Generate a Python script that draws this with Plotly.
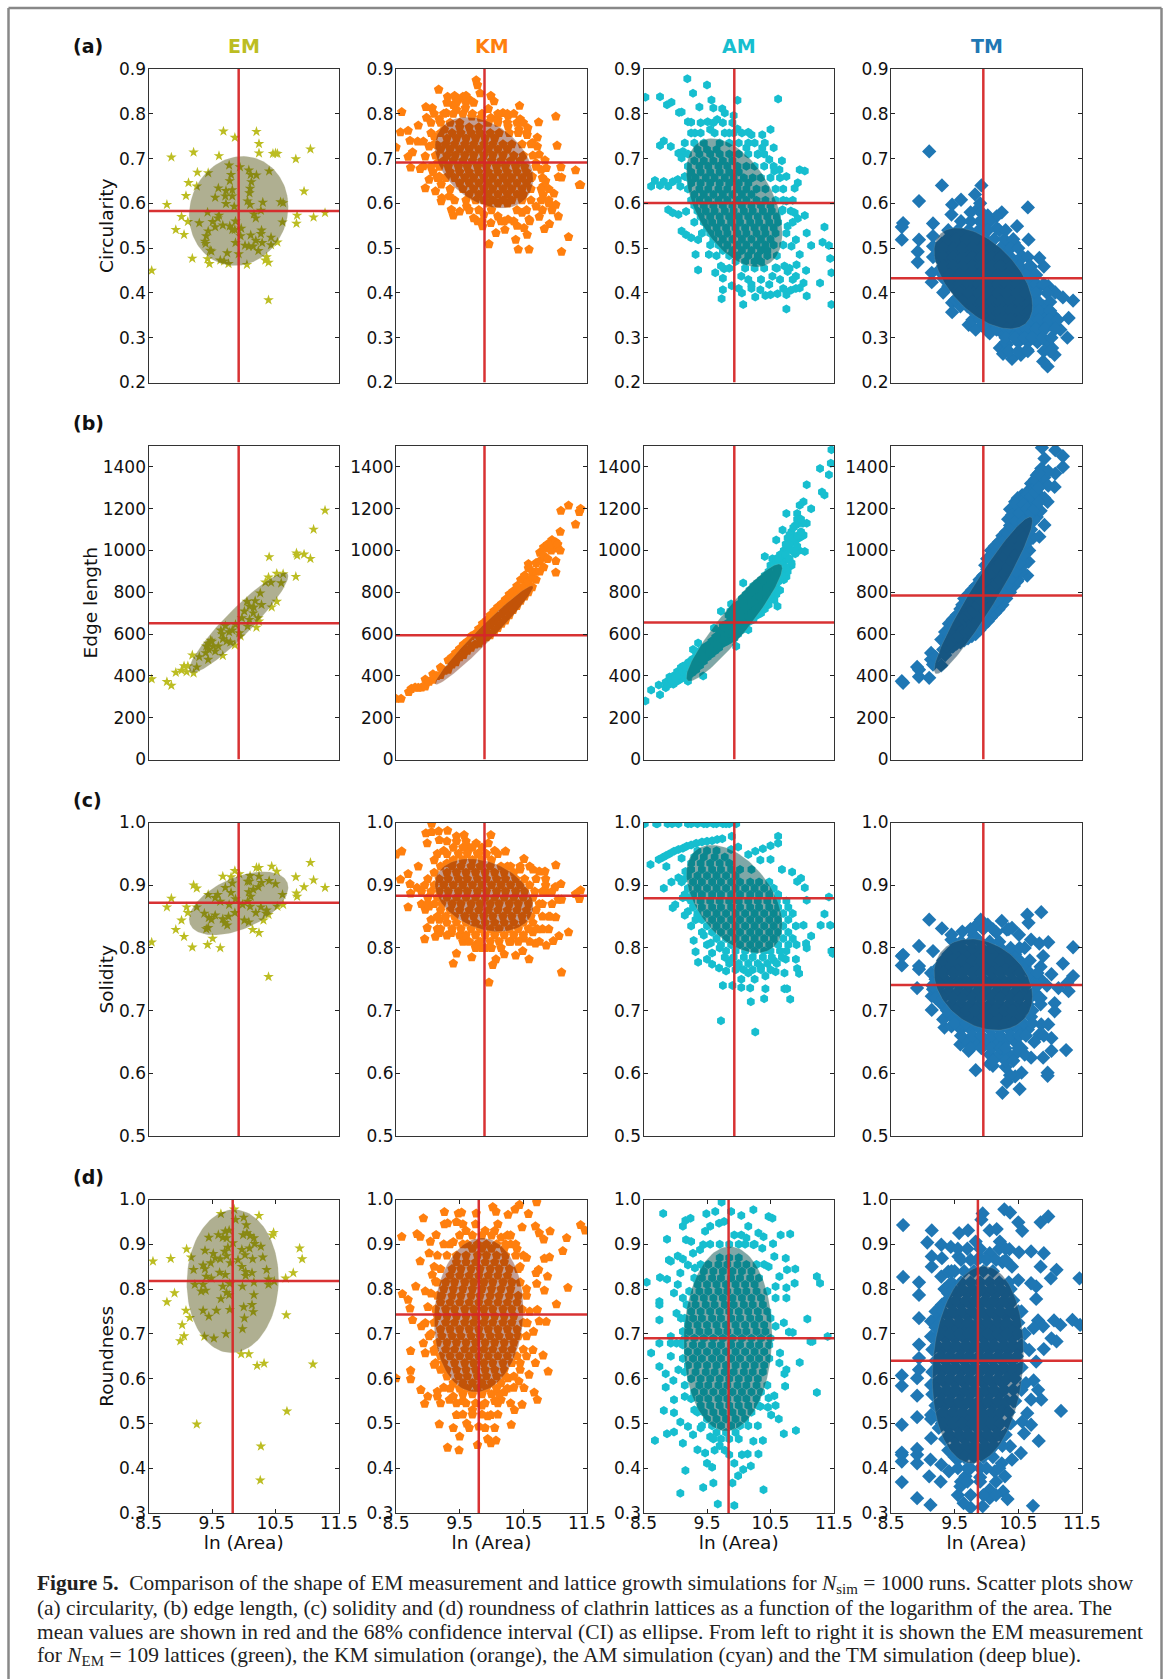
import numpy as np
import plotly.graph_objects as go

W, H = 1165, 1679
MODELS = ["EM", "KM", "AM", "TM"]
COLORS = ["#bcbd22", "#ff7f0e", "#17becf", "#1f77b4"]
SYMBOLS = ["star", "pentagon", "hexagon", "diamond"]
MSIZE = [8, 10, 9, 11]
ELL_FILL = ["rgba(70,70,0,0.43)", "rgba(110,25,0,0.42)", "rgba(0,80,80,0.5)", "rgba(15,55,85,0.52)"]
ROW_LABELS = ["(a)", "(b)", "(c)", "(d)"]
Y_TITLES = ["Circularity", "Edge length", "Solidity", "Roundness"]
X_TICKS = [8.5, 9.5, 10.5, 11.5]
X_TICKTEXT = ["8.5", "9.5", "10.5", "11.5"]
Y_RANGES = [[0.2, 0.9], [0, 1500], [0.5, 1.0], [0.3, 1.0]]
Y_TICKS = [[0.2, 0.3, 0.4, 0.5, 0.6, 0.7, 0.8, 0.9],
           [0, 200, 400, 600, 800, 1000, 1200, 1400],
           [0.5, 0.6, 0.7, 0.8, 0.9, 1.0],
           [0.3, 0.4, 0.5, 0.6, 0.7, 0.8, 0.9, 1.0]]
Y_TICKTEXT = [["0.2", "0.3", "0.4", "0.5", "0.6", "0.7", "0.8", "0.9"],
              ["0", "200", "400", "600", "800", "1000", "1200", "1400"],
              ["0.5", "0.6", "0.7", "0.8", "0.9", "1.0"],
              ["0.3", "0.4", "0.5", "0.6", "0.7", "0.8", "0.9", "1.0"]]

# mean values: one row per shape measure, one column per model
MEAN_X = [[9.92, 9.89, 9.93, 9.95], [9.92, 9.89, 9.93, 9.95], [9.92, 9.89, 9.93, 9.95], [9.826, 9.80, 9.84, 9.865]]
MEAN_Y = [[0.583, 0.691, 0.601, 0.433], [652, 595, 655, 785], [0.872, 0.883, 0.879, 0.741], [0.818, 0.743, 0.69, 0.64]]
# confidence ellipses: half-width in x, half-height in y, correlation
ELL_CX = [[9.92, 9.883, 9.93, 9.95], [9.92, 9.883, 9.93, 9.95], [9.92, 9.883, 9.93, 9.95], [9.826, 9.80, 9.83, 9.865]]
ELL_CY = [[0.583, 0.691, 0.6015, 0.4325], [655, 595, 655, 785], [0.871, 0.884, 0.878, 0.7415], [0.8175, 0.742, 0.689, 0.631]]
ELL_SX = [[0.78, 0.77, 0.754, 0.772], [0.78, 0.77, 0.754, 0.772], [0.78, 0.77, 0.754, 0.772], [0.723, 0.70, 0.695, 0.716]]
ELL_SY = [[0.122, 0.1015, 0.1435, 0.1125], [240, 236, 280, 375], [0.0505, 0.058, 0.086, 0.0727], [0.16, 0.172, 0.206, 0.22]]
ELL_RHO = [[0.08, -0.35, -0.47, -0.54], [0.93, 0.975, 0.93, 0.95], [0.5, -0.3, -0.47, -0.26], [0.03, 0.07, 0.04, 0.13]]

EM_A = [(8.55,.45),(8.86,.703),(8.79,.597),(9.21,.714),(9.27,.669),(9.13,.646),(9.26,.638),(9.09,.617),(9.02,.57),(9.12,.559),(8.93,.541),(9.06,.53),(9.19,.477),(9.3,.556),(9.43,.58),(9.44,.668),(9.61,.706),(9.68,.761),(9.86,.747),(10.2,.76),(10.24,.733),(10.24,.712),(10.46,.711),(10.5,.712),(10.53,.711),(10.82,.699),(11.05,.721),(10.95,.627),(10.84,.573),(10.83,.555),(11.1,.569),(11.28,.579),(10.39,.384),(10.4,.672),(10.2,.663),(10.08,.674),(10.11,.664),(9.77,.685),(9.94,.681),(9.8,.664),(9.78,.65),(10.12,.648),(9.6,.634),(9.72,.628),(9.82,.63),(10.1,.633),(10.09,.623),(9.55,.613),(9.71,.616),(9.82,.616),(10.06,.605),(10.1,.597),(10.3,.602),(10.58,.603),(10.62,.601),(9.72,.599),(9.85,.593),(10.27,.584),(9.61,.573),(9.59,.567),(10.16,.576),(10.19,.567),(9.51,.559),(9.55,.547),(9.67,.551),(9.78,.549),(9.82,.541),(9.87,.56),(9.86,.541),(9.96,.544),(9.44,.538),(9.41,.527),(9.39,.515),(9.4,.51),(10.61,.558),(10.28,.54),(10.27,.532),(10.11,.529),(10.43,.524),(9.95,.527),(9.87,.512),(10.19,.517),(10.29,.512),(10.53,.513),(10.43,.507),(10.02,.506),(10.08,.504),(10.15,.504),(10.23,.494),(9.47,.495),(9.49,.493),(9.74,.489),(9.92,.487),(9.43,.476),(9.46,.465),(9.63,.473),(9.69,.471),(9.76,.465),(10.05,.463),(10.34,.473),(10.36,.48),(10.39,.468)]
EM_B = [(8.55,385),(8.79,372),(8.86,354),(8.93,416),(9.02,426),(9.06,447),(9.12,447),(9.1,419),(9.21,413),(9.19,499),(9.26,442),(9.3,491),(9.41,542),(9.44,555),(9.48,570),(9.4,510),(9.45,526),(9.44,478),(9.52,542),(9.55,518),(9.6,542),(9.67,497),(9.67,577),(9.64,618),(9.71,640),(9.73,566),(9.79,561),(9.86,547),(9.82,618),(9.87,645),(9.93,605),(9.95,590),(10.01,709),(10.05,756),(10.09,733),(10.16,728),(10.18,759),(10.15,700),(10.06,637),(10.09,669),(10.23,677),(10.24,661),(10.2,632),(10.28,740),(10.26,796),(10.34,848),(10.39,872),(10.43,847),(10.4,969),(10.44,729),(10.52,756),(10.52,890),(10.62,888),(10.59,844),(10.82,875),(10.83,987),(10.84,976),(10.95,982),(11.05,961),(11.1,1101),(11.28,1192),(9.97,677),(9.66,600),(9.77,610),(9.5,565)]
EM_C = [(8.55,.809),(8.79,.865),(8.86,.879),(8.93,.829),(9.02,.844),(9.06,.818),(9.1,.865),(9.12,.856),(9.19,.801),(9.21,.9),(9.26,.895),(9.26,.865),(9.43,.805),(9.51,.815),(9.63,.8),(9.67,.914),(9.8,.913),(9.86,.923),(9.93,.918),(9.71,.896),(9.82,.903),(9.44,.885),(9.59,.885),(9.55,.88),(9.63,.874),(9.38,.855),(9.45,.848),(9.49,.845),(9.55,.852),(9.67,.846),(9.41,.83),(9.44,.832),(9.7,.84),(9.74,.836),(9.76,.85),(9.86,.856),(9.8,.888),(9.77,.869),(9.87,.878),(9.98,.869),(10.06,.874),(10.1,.866),(10.01,.844),(10.08,.841),(10.14,.829),(10.24,.824),(10.31,.844),(10.39,.853),(10.36,.86),(10.35,.855),(10.19,.856),(10.27,.865),(10.53,.866),(10.62,.869),(10.61,.885),(10.5,.902),(10.4,.907),(10.28,.904),(10.23,.897),(10.15,.893),(10.08,.889),(10.11,.882),(10.09,.906),(10.06,.906),(10.1,.915),(10.24,.914),(10.2,.928),(10.24,.928),(10.44,.93),(10.52,.922),(10.82,.913),(10.95,.897),(10.83,.887),(10.84,.882),(11.1,.908),(11.05,.936),(11.28,.896),(10.39,.754)]
EM_D = [(8.57,.862),(8.85,.868),(9.1,.889),(9.17,.871),(8.91,.791),(8.79,.771),(9.21,.843),(9.23,.81),(9.09,.752),(9.15,.736),(9.03,.72),(9.06,.695),(9,.684),(9.38,.694),(9.53,.69),(9.72,.7),(9.98,.711),(10.01,.735),(10.15,.749),(10.13,.765),(10,.76),(9.78,.754),(9.57,.752),(9.45,.739),(9.36,.752),(9.26,.498),(9.96,.655),(10.08,.655),(10.21,.629),(10.32,.634),(10.67,.742),(11.09,.632),(10.68,.527),(10.27,.449),(10.26,.373),(10.88,.891),(10.92,.867),(10.78,.836),(10.66,.824),(9.64,.968),(9.85,.978),(10.24,.964),(9.87,.955),(10,.96),(10.04,.943),(10.45,.92),(10.47,.926),(9.45,.915),(9.6,.921),(9.71,.929),(9.77,.931),(9.67,.915),(9.73,.914),(9.99,.921),(10.05,.925),(10.1,.919),(10.16,.914),(10.17,.901),(10.27,.895),(9.83,.903),(9.75,.893),(9.39,.886),(9.52,.879),(9.55,.869),(9.63,.867),(9.48,.858),(9.7,.884),(9.73,.874),(9.79,.858),(9.91,.865),(9.97,.888),(10.02,.876),(10.09,.891),(10.14,.867),(10.3,.871),(10.36,.843),(9.36,.853),(9.39,.845),(9.41,.828),(9.49,.824),(9.62,.837),(9.71,.832),(9.97,.85),(10.03,.839),(10.13,.836),(10.03,.83),(10.39,.822),(10.39,.81),(10.48,.817),(10.16,.815),(9.98,.806),(9.36,.81),(9.33,.795),(9.4,.797),(9.67,.806),(9.78,.812),(9.73,.792),(9.77,.787),(9.64,.778),(10.16,.787)]

# KM: single readable points, then the dense part read row by row as (y, [x ...])
KM_A = [(8.5,.725),(8.59,.804),(8.57,.759),(8.69,.762),(8.72,.74),(8.85,.774),(8.84,.738),(8.93,.738),(8.76,.714),(8.69,.704),(8.73,.68),(8.88,.677),(8.96,.705),(8.93,.683),(9.02,.727),(8.97,.815),(8.98,.791),(9.07,.813),(9.17,.854),(9.31,.838),(9.42,.84),(9.48,.832),(9.55,.838),(9.64,.833),(9.76,.875),(9.78,.864),(9.82,.846),(9.99,.84),(10.04,.828),(9.95,.811),(10.44,.818),(11.01,.794),(10.74,.781),(10.45,.788),(10.18,.802),(10.26,.796),(11.03,.729),(10.72,.747),(10.57,.768),(10.84,.696),(11.09,.681),(11.32,.674),(11.05,.659),(11.1,.658),(11.38,.641),(11.4,.641),(10.86,.679),(10.72,.727),(10.75,.709),(10.81,.638),(10.98,.622),(11.01,.597),(11.05,.571),(10.91,.554),(10.83,.543),(11.21,.525),(11.1,.492),(10.59,.497),(10.42,.497),(10.38,.519),(10.56,.53),(10.51,.545),(10.59,.564),(9.96,.509),(10.07,.534),(10.21,.541),(9.86,.549),(9.78,.56),(9.72,.567),(9.4,.573),(9.37,.586),(9.5,.582),(9.21,.605),(9.22,.612),(9.12,.627),(9.21,.642),(8.96,.634),(9.02,.653),(9.18,.66),(9.26,.765),(9.18,.787),(9.29,.802),(9.45,.809),(9.59,.813),(9.69,.794),(9.83,.791),(9.99,.791),(10.1,.787),(10.26,.772),(10.43,.765),(10.56,.753),(10.64,.735),(10.78,.675),(10.64,.66),(10.81,.619),(10.7,.593),(10.48,.579),(10.26,.564),(10.1,.571),(9.99,.556),(9.88,.575),(9.61,.593),(9.34,.616),(9.1,.75),(9.05,.78),(9.15,.73),(9.4,.82),(9.6,.84),(10.7,.69),(10.85,.65),(10.9,.6),(10.75,.57),(10.4,.55),(10.2,.56),(9.15,.69),(9.08,.67)]
KM_A_CORE = [(.77,[9.5,9.65,9.8]),(.745,[9.3,9.45,9.6,9.75,9.9,10.05]),(.72,[9.2,9.35,9.5,9.65,9.8,9.95,10.1,10.25]),(.695,[9.25,9.4,9.55,9.7,9.85,10,10.15,10.3,10.45]),(.67,[9.35,9.5,9.65,9.8,9.95,10.1,10.25,10.4,10.55]),(.645,[9.5,9.65,9.8,9.95,10.1,10.25,10.4,10.55]),(.62,[9.65,9.8,9.95,10.1,10.25,10.4,10.5]),(.6,[9.95,10.1,10.25]),
 (.825,[9.3,9.45,9.6,9.72]),(.8,[9.1,9.25,9.4,9.55,9.7,9.85,10.1,10.25,10.35]),(.78,[9.2,9.35,9.5,9.95,10.1,10.25,10.4,10.5]),(.757,[9.05,9.2,9.38,9.52,9.68,9.82,9.98,10.12,10.28,10.42,10.55]),(.732,[9.1,9.28,9.42,9.58,9.72,9.88,10.02,10.18,10.32,10.48,10.62]),(.707,[9.12,9.3,9.43,9.58,9.72,9.88,10.02,10.18,10.35,10.5,10.65]),(.682,[9.05,9.18,9.32,9.48,9.62,9.78,9.92,10.08,10.22,10.38,10.52,10.7]),(.657,[9.15,9.28,9.42,9.58,9.72,9.88,10.02,10.18,10.32,10.48,10.62,10.8]),(.632,[9.35,9.55,9.72,9.88,10.02,10.18,10.32,10.48,10.62,10.78,10.9]),(.607,[9.42,9.6,9.75,9.88,10.02,10.18,10.32,10.48,10.62,10.78,10.9]),(.585,[9.65,9.8,10,10.4,10.55,10.8,10.95]),(.56,[9.85,10.15,10.35,10.6])]
KM_B = [(8.5,291),(8.58,291),(8.7,323),(8.74,338),(8.85,343),(8.8,345),(8.9,345),(11.09,1190),(11.21,1215),(11.32,1125),(11.38,1185),(11.4,1200),(10.58,935),(10.95,1050)]
KM_B_CORE = [(8.96,[350,383]),(9.02,[372]),(9.08,[382,408]),(9.14,[400]),(9.2,[405,440]),(9.26,[425]),(9.32,[430,475]),(9.38,[455,490]),(9.44,[465,510]),(9.5,[490,530]),(9.56,[500,550]),(9.62,[520,565]),(9.68,[535,590]),(9.74,[550,600]),(9.8,[555,590,625]),(9.86,[570,610,650]),(9.92,[585,625,665]),(9.98,[595,640,690]),(10.04,[610,660,710]),(10.1,[630,680,730]),(10.16,[650,695,745]),(10.22,[665,715,765]),(10.28,[690,740,790]),(10.34,[715,760,805]),(10.4,[735,785,830]),(10.46,[760,810,860]),(10.52,[780,830,880]),(10.58,[800,850,915]),(10.64,[825,870,900]),(10.7,[860,900,940]),(10.76,[900,950,990]),(10.82,[920,975,1015]),(10.88,[960,1010,1030]),(10.94,[1000,1030]),(11.01,[895,950,1040]),(11.04,[1010,1030]),(11.08,[1000,1090])]
KM_C = [(8.5,.949),(8.59,.954),(8.57,.909),(8.69,.918),(8.72,.902),(8.73,.887),(8.69,.865),(8.85,.93),(8.83,.896),(8.95,.814),(8.99,.832),(8.97,.983),(9.06,.985),(9.17,.986),(9.31,.987),(9.06,.998),(8.99,.967),(9.18,.972),(9.45,.978),(9.57,.98),(9.76,.967),(9.99,.98),(9.95,.967),(10.22,.954),(10.51,.942),(11.01,.932),(10.75,.922),(10.84,.922),(11.09,.902),(11,.897),(11.4,.892),(11.32,.886),(11.38,.878),(11.05,.877),(11.1,.877),(10.86,.889),(11.01,.849),(11.21,.825),(11.06,.819),(10.97,.811),(10.86,.804),(11.1,.761),(10.59,.782),(10.38,.788),(10.49,.795),(10.69,.807),(10.2,.79),(10.07,.782),(10.02,.773),(9.96,.745),(9.69,.785),(9.45,.791),(9.4,.775),(9.37,.824),(9.5,.82),(9.12,.818),(9.18,.824),(9.18,.845),(8.96,.861),(9.02,.866),(9.1,.94),(9.25,.955),(9.3,.935),(9.1,.92),(8.95,.9),(9.0,.88),(8.9,.87),(9.1,.87),(9.05,.845),(9.15,.83),(9.3,.82),(9.55,.81),(9.75,.805),(9.85,.8),(10.3,.81),(10.5,.815),(10.65,.825),(10.8,.83),(10.9,.85),(10.8,.87),(10.85,.9),(10.65,.925),(10.45,.925),(10.25,.93),(10.05,.955),(9.65,.96),(9.8,.95)]
KM_C_CORE = [(.96,[9.4,9.55,9.7,9.85]),(.94,[9.4,9.55,9.7,9.85,10]),(.92,[9.3,9.45,9.6,9.75,9.9,10.05,10.2,10.35]),(.9,[9.1,9.25,9.4,9.55,9.7,9.85,10,10.15,10.3,10.45,10.6]),(.88,[9.15,9.3,9.45,9.6,9.75,9.9,10.05,10.2,10.35,10.5,10.65]),(.86,[9.2,9.35,9.5,9.65,9.8,9.95,10.1,10.25,10.4,10.55,10.7]),(.84,[9.3,9.45,9.6,9.75,9.9,10.05,10.2,10.35,10.5,10.65]),(.82,[9.6,9.75,9.9,10.05,10.2,10.35,10.5]),(.8,[9.75,9.9,10,10.15]),
 (.97,[9.3,9.45,9.6]),(.95,[9.15,9.3,9.48,9.62,9.78,9.92,10.1]),(.93,[9.2,9.38,9.52,9.68,9.82,9.98,10.15,10.3,10.45,10.6]),(.91,[9,9.18,9.32,9.48,9.62,9.78,9.92,10.08,10.22,10.38,10.52,10.7,10.85]),(.89,[8.9,9.05,9.18,9.32,9.48,9.62,9.78,9.92,10.08,10.22,10.38,10.52,10.68,10.8,10.95]),(.87,[9,9.22,9.38,9.52,9.68,9.82,9.98,10.12,10.28,10.42,10.58,10.75,10.95]),(.85,[9.15,9.28,9.42,9.58,9.72,9.88,10.02,10.18,10.32,10.48,10.62,10.8,10.92]),(.83,[9.2,9.38,9.52,9.68,9.82,9.98,10.12,10.28,10.42,10.58,10.72,10.9]),(.81,[9.65,9.82,9.98,10.12,10.28,10.42,10.6,10.75])]
KM_D = [(8.5,.601),(8.59,.917),(8.93,.958),(8.83,.923),(8.88,.917),(9.26,.972),(9.13,.921),(9.04,.906),(9.26,.945),(9.31,.947),(9.48,.969),(9.53,.971),(9.76,.969),(10.02,.983),(10.07,.973),(10.26,.966),(10.37,.978),(10.44,.988),(10.71,.994),(10.58,.968),(10.48,.938),(10.69,.94),(10.92,.929),(10.75,.925),(10.82,.911),(11.18,.914),(11.12,.885),(11.4,.943),(11.47,.931),(10.83,.868),(10.91,.871),(10.74,.843),(10.7,.836),(10.88,.828),(10.71,.812),(10.83,.797),(11.2,.803),(11.02,.766),(10.72,.754),(10.86,.727),(10.75,.728),(10.66,.705),(10.56,.724),(10.65,.664),(10.81,.652),(10.69,.635),(10.89,.616),(10.59,.609),(10.67,.569),(10.72,.553),(10.43,.594),(10.26,.601),(10.51,.579),(10.48,.542),(10.36,.53),(10.31,.497),(10.15,.553),(9.99,.519),(9.94,.516),(9.94,.465),(10.07,.462),(9.99,.456),(9.78,.452),(9.8,.493),(9.61,.5),(9.5,.471),(9.49,.44),(9.31,.446),(9.18,.498),(9.45,.519),(9.34,.553),(9.15,.56),(9.15,.571),(8.95,.544),(9,.56),(8.89,.575),(8.73,.618),(8.73,.599),(8.73,.662),(8.76,.731),(8.72,.757),(8.69,.776),(8.6,.789),(8.81,.806),(8.96,.795),(8.88,.862),(9.02,.88),(9.07,.832),(9.12,.817),(8.96,.724),(8.9,.717),(8.93,.679),(8.96,.657),(9.1,.631),(10.05,.93),(10.15,.915),(10.25,.92),(10.3,.9),(10.2,.89),(10.1,.945),(9.9,.93),(9.75,.945),(9.6,.93),(9.45,.95),(9.55,.945),(9.4,.905),(9.25,.9),(9.15,.875),(9.1,.85),(9.05,.79),(9.0,.76),(9.05,.7),(9.1,.66),(9.2,.62),(9.25,.58),(9.4,.56),(9.55,.55),(9.7,.53),(9.85,.54),(10.05,.55),(10.2,.57),(10.35,.58),(10.45,.62),(10.55,.65),(10.6,.75),(10.55,.8),(10.45,.85),(10.55,.87),(10.4,.89)]
KM_D_CORE = [(.89,[9.7,9.85,10]),(.86,[9.45,9.6,9.75,9.9,10.05,10.2]),(.83,[9.35,9.5,9.65,9.8,9.95,10.1,10.25]),(.8,[9.25,9.4,9.55,9.7,9.85,10,10.15,10.3]),(.77,[9.2,9.35,9.5,9.65,9.8,9.95,10.1,10.25,10.4]),(.74,[9.15,9.3,9.45,9.6,9.75,9.9,10.05,10.2,10.35]),(.71,[9.2,9.35,9.5,9.65,9.8,9.95,10.1,10.25,10.4]),(.68,[9.15,9.3,9.45,9.6,9.75,9.9,10.05,10.2,10.35]),(.65,[9.2,9.35,9.5,9.65,9.8,9.95,10.1,10.25,10.4]),(.62,[9.3,9.45,9.6,9.75,9.9,10.05,10.2]),(.59,[9.4,9.55,9.7,9.85,10,10.15]),(.565,[9.55,9.7,9.85,10,10.12]),
 (.92,[9.5,9.7,9.85,10,10.3]),(.9,[9.35,9.55,9.62,9.78,9.92,10.08,10.22,10.38]),(.875,[9.3,9.45,9.6,9.78,9.92,10.08,10.22,10.38,10.5]),(.845,[9.2,9.38,9.52,9.68,9.82,9.98,10.12,10.28,10.42]),(.815,[9.15,9.28,9.42,9.58,9.72,9.88,10.02,10.18,10.32,10.45]),(.785,[9.15,9.22,9.38,9.52,9.68,9.82,9.98,10.12,10.28,10.42,10.55]),(.755,[9.12,9.28,9.42,9.58,9.72,9.88,10.02,10.18,10.32,10.48]),(.725,[9.1,9.28,9.42,9.58,9.72,9.88,10.02,10.18,10.32,10.5]),(.695,[9.02,9.22,9.38,9.52,9.68,9.82,9.98,10.12,10.28,10.42,10.55]),(.665,[9.1,9.28,9.42,9.58,9.72,9.88,10.02,10.18,10.32,10.5]),(.635,[9.12,9.25,9.42,9.58,9.72,9.88,10.02,10.18,10.32,10.45]),(.605,[9.3,9.48,9.62,9.78,9.92,10.08,10.22,10.35]),(.578,[9.35,9.5,9.62,9.78,9.92,10.08,10.25]),(.545,[9.2,9.45,9.6,9.75,9.9,10.1,10.3]),(.52,[9.55,9.7,9.85,10.1]),(.49,[9.4,9.65,9.9,10.05])]

AM_A = [(8.53,.837),(8.76,.838),(8.87,.82),(8.94,.826),(9.06,.803),(9.1,.804),(9.19,.878),(9.28,.846),(9.5,.864),(9.57,.831),(9.38,.815),(9.6,.813),(9.74,.811),(9.78,.802),(9.92,.796),(9.98,.83),(10.62,.833),(10.5,.765),(10.37,.753),(10.2,.753),(10.15,.759),(9.98,.766),(9.85,.757),(9.51,.782),(9.2,.782),(9.25,.781),(9.25,.757),(9.31,.757),(9.55,.765),(9.66,.787),(8.76,.729),(8.82,.739),(8.93,.727),(9.05,.712),(9.12,.716),(9.1,.701),(8.68,.651),(8.62,.638),(8.76,.64),(8.82,.649),(8.89,.638),(8.96,.648),(9.04,.653),(9.08,.638),(9.15,.66),(8.89,.586),(8.96,.579),(9.05,.575),(9.17,.582),(9.1,.538),(9.17,.53),(9.25,.523),(9.36,.519),(9.32,.486),(9.53,.486),(9.36,.451),(9.63,.445),(9.72,.46),(9.77,.454),(9.75,.433),(9.75,.407),(9.73,.387),(9.89,.416),(10.05,.4),(10.07,.374),(10.26,.391),(10.2,.419),(10.04,.437),(10.34,.407),(10.48,.419),(10.42,.394),(10.5,.396),(10.61,.398),(10.75,.396),(10.82,.406),(10.75,.364),(11.07,.393),(11.28,.422),(11.02,.422),(10.96,.411),(11.06,.45),(10.91,.463),(10.9,.437),(10.72,.46),(10.77,.448),(10.58,.456),(10.53,.437),(11.46,.374),(11.46,.445),(11.44,.477),(11.32,.513),(11.42,.506),(11.35,.547),(11.14,.506),(11.07,.534),(11.04,.573),(10.93,.566),(10.88,.579),(10.77,.549),(10.9,.519),(10.96,.486),(10.83,.504),(10.75,.605),(10.69,.586),(11.04,.672),(10.96,.675),(10.93,.646),(10.88,.634),(10.75,.66),(10.64,.675),(10.56,.672),(10.68,.695),(10.55,.724),(10.48,.698),(10.41,.735),(10.37,.724),(10.3,.709),(10.12,.724)]
AM_A_CORE = [(.72,[9.35,9.5,9.65]),(.695,[9.3,9.45,9.6,9.75,9.9]),(.67,[9.25,9.4,9.55,9.7,9.85,10]),(.645,[9.25,9.4,9.55,9.7,9.85,10,10.15]),(.62,[9.3,9.45,9.6,9.75,9.9,10.05,10.2]),(.595,[9.3,9.45,9.6,9.75,9.9,10.05,10.2,10.35,10.5]),(.57,[9.4,9.55,9.7,9.85,10,10.15,10.3,10.45,10.6]),(.545,[9.5,9.65,9.8,9.95,10.1,10.25,10.4,10.55]),(.52,[9.6,9.75,9.9,10.05,10.2,10.35,10.5]),(.495,[9.75,9.9,10.05,10.2,10.35,10.45]),(.47,[9.95,10.1,10.25,10.35]),
 (.78,[9.4,9.6,9.75,9.9]),(.757,[9.4,9.62,9.78,9.92,10.05]),(.735,[9.15,9.3,9.45,9.7,9.85,10,10.15,10.25]),(.71,[9.2,9.38,9.55,9.7,9.85,10,10.15,10.3,10.4]),(.683,[9.2,9.38,9.52,9.68,9.82,9.98,10.12,10.25,10.4,10.55]),(.657,[9.2,9.32,9.48,9.62,9.78,9.92,10.08,10.22,10.35,10.5,10.65]),(.632,[9.2,9.38,9.52,9.68,9.82,9.98,10.12,10.28,10.42,10.58,10.7]),(.607,[9.25,9.38,9.52,9.68,9.82,9.98,10.12,10.28,10.42,10.58,10.7,10.85]),(.583,[9.35,9.48,9.62,9.78,9.92,10.08,10.22,10.38,10.52,10.68,10.82]),(.558,[9.3,9.45,9.58,9.72,9.88,10.02,10.18,10.32,10.48,10.62,10.85]),(.533,[9.42,9.55,9.68,9.82,9.98,10.12,10.28,10.42,10.58,10.75]),(.507,[9.55,9.68,9.82,9.98,10.12,10.28,10.42,10.55,10.7]),(.483,[9.65,9.85,9.98,10.15,10.3,10.45,10.6]),(.455,[9.85,10.1,10.25,10.4,10.6,10.8]),(.43,[10.15,10.35,10.65,10.85]),(.41,[10,10.2,10.7,10.9])]
AM_B = [(8.53,280),(8.62,332),(8.76,310),(8.74,356),(9.12,446),(9.2,375),(9.28,526),(9.36,558),(9.44,399),(9.53,510),(9.61,629),(9.72,709),(9.88,744),(10.07,844),(9.96,542),(10.15,621),(10.61,733),(10.56,764),(10.75,875),(10.83,928),(11.04,995),(11.02,1074),(11.07,1130),(10.92,1177),(10.75,1177),(10.69,1098),(10.59,1050),(10.41,971),(11.14,1200),(11.02,1233),(10.96,1217),(11.07,1315),(11.31,1280),(11.35,1265),(11.28,1392),(11.42,1363),(11.45,1418),(11.46,1482)]
AM_B_CORE = [(8.85,[343,370]),(8.91,[365,395]),(8.97,[360,400]),(9.03,[375,420]),(9.09,[385,440]),(9.15,[395,450]),(9.21,[400,465]),(9.27,[415,480]),(9.33,[430,500]),(9.39,[450,520]),(9.45,[470,490,535]),(9.51,[490,545]),(9.57,[505,565]),(9.63,[520,555,585]),(9.69,[535,570,610]),(9.75,[555,600,640]),(9.81,[565,610,650]),(9.87,[575,620,665,710]),(9.93,[580,630,680,720]),(9.99,[600,650,700,740]),(10.05,[620,670,720,770]),(10.11,[640,690,740,790]),(10.17,[660,710,760,810]),(10.23,[670,730,780,830]),(10.29,[690,745,800,845]),(10.35,[700,760,815,860]),(10.41,[720,780,830,880]),(10.47,[740,800,850,900]),(10.53,[770,820,870,930,960]),(10.59,[790,840,900,960]),(10.65,[810,870,930,980]),(10.71,[860,900,950,1000]),(10.77,[900,960,1010,1060]),(10.83,[940,1000,1040,1090]),(10.89,[985,1040,1120]),(10.95,[1000,1060,1130]),(11.01,[1070,1130]),
 (8.88,[355]),(8.94,[380]),(9,[390]),(9.06,[405]),(9.12,[420]),(9.18,[425,440]),(9.24,[435,460]),(9.3,[455,480]),(9.36,[470,505]),(9.42,[480,515]),(9.48,[500,530]),(9.54,[520,550]),(9.6,[535,570]),(9.66,[550,590]),(9.72,[575,620]),(9.78,[590,630]),(9.84,[600,645,690]),(9.9,[610,660,700]),(9.96,[625,675,720]),(10.02,[645,695,745]),(10.08,[665,715,765]),(10.14,[685,735,785]),(10.2,[700,750,800]),(10.26,[715,765,815]),(10.32,[730,780,830]),(10.38,[750,805,855]),(10.44,[770,820,870]),(10.5,[790,840,890,930]),(10.56,[820,880,930]),(10.62,[850,900,960]),(10.68,[880,930,980]),(10.74,[920,980,1030]),(10.8,[960,1030,1075]),(10.86,[1000,1060,1110]),(10.92,[1020,1070,1150]),(10.98,[1090,1150])]
AM_C = [(8.52,.998),(8.7,.998),(8.72,.998),(8.88,.998),(8.95,.998),(9.05,.998),(9.2,.998),(9.25,.998),(9.35,.998),(9.45,.998),(9.5,.998),(9.6,.998),(9.65,.998),(9.75,.998),(9.8,.998),(9.85,.998),(9.96,.998),(8.74,.941),(8.8,.944),(8.85,.947),(8.91,.95),(8.98,.954),(9.05,.957),(9.12,.959),(9.18,.962),(9.25,.964),(9.33,.967),(9.42,.969),(9.5,.97),(9.58,.971),(9.66,.973),(9.74,.974),(9.89,.978),(8.61,.933),(8.86,.93),(9.1,.943),(8.94,.905),(8.82,.895),(9.05,.912),(9.13,.909),(9.16,.922),(8.96,.864),(9,.869),(9.15,.852),(9.2,.858),(9.12,.88),(9.25,.835),(9.29,.812),(9.32,.794),(9.36,.777),(9.5,.782),(9.58,.774),(9.56,.808),(9.58,.792),(9.69,.768),(9.8,.763),(9.75,.74),(9.9,.74),(9.72,.684),(10.26,.666),(10.19,.714),(10.4,.719),(10.81,.718),(10.72,.735),(10.76,.735),(10.42,.735),(10.18,.736),(10.04,.737),(10.04,.75),(10.25,.75),(10.42,.755),(10.58,.762),(10.72,.76),(10.95,.759),(10.92,.767),(10.9,.782),(10.74,.782),(11.07,.8),(11.06,.807),(11.14,.819),(10.91,.805),(11.02,.836),(11.29,.836),(11.35,.854),(11.44,.836),(11.46,.795),(11.48,.791),(11.42,.881),(11.07,.876),(11.04,.896),(10.98,.911),(10.92,.906),(10.84,.921),(10.68,.925),(10.5,.941),(10.34,.94),(10.62,.978),(10.62,.967),(10.5,.963),(10.38,.958),(10.26,.954),(10.15,.949),(9.99,.961),(9.88,.957),(9.7,.8),(9.85,.78),(10,.77),(10.15,.76),(10.35,.77),(10.55,.78),(9.45,.82),(9.35,.85),(9.2,.88)]
AM_C_CORE = [(.955,[9.35,9.5,9.65]),(.935,[9.25,9.4,9.55,9.7,9.85]),(.915,[9.2,9.35,9.5,9.65,9.8,9.95]),(.895,[9.2,9.35,9.5,9.65,9.8,9.95,10.1,10.25,10.4,10.55]),(.875,[9.25,9.4,9.55,9.7,9.85,10,10.15,10.3,10.45,10.6,10.75]),(.855,[9.35,9.5,9.65,9.8,9.95,10.1,10.25,10.4,10.55,10.7,10.85]),(.835,[9.5,9.65,9.8,9.95,10.1,10.25,10.4,10.55,10.7,10.9]),(.815,[9.65,9.8,9.95,10.1,10.25,10.4,10.55,10.7,10.85]),(.795,[9.8,9.95,10.1,10.25,10.4,10.5,10.65,10.75]),(.775,[9.85,10,10.15,10.3,10.45,10.6]),
 (.945,[9.3,9.45,9.62,9.78]),(.925,[9.25,9.42,9.58,9.72,9.88,10.02,10.2]),(.905,[9.1,9.28,9.42,9.58,9.72,9.88,10.02,10.18,10.32,10.48]),(.885,[9.15,9.28,9.42,9.58,9.72,9.88,10.02,10.18,10.32,10.48,10.62]),(.865,[9.28,9.42,9.58,9.72,9.88,10.02,10.18,10.32,10.48,10.62,10.78]),(.845,[9.32,9.42,9.58,9.72,9.88,10.02,10.18,10.32,10.48,10.62,10.78]),(.825,[9.42,9.58,9.72,9.88,10.02,10.18,10.32,10.48,10.62,10.78]),(.805,[9.5,9.72,9.88,10.02,10.18,10.32,10.48,10.62,10.78]),(.785,[9.78,9.92,10.08,10.22,10.38,10.52,10.68]),(.765,[9.95,10.08,10.22,10.35,10.5])]
AM_D = [(8.55,.815),(8.81,.969),(8.87,.911),(9.12,.94),(9.16,.953),(9.24,.958),(9.49,.968),(9.63,.973),(9.73,.994),(9.88,.973),(10.04,.964),(10.23,.977),(10.47,.962),(10.53,.958),(10.81,.923),(10.66,.921),(10.54,.901),(10.74,.869),(10.89,.845),(11.23,.828),(11.28,.813),(10.76,.843),(10.88,.813),(10.75,.803),(10.58,.806),(10.75,.78),(10.58,.78),(11.08,.733),(10.71,.725),(10.58,.717),(11.4,.694),(11.13,.683),(11.16,.683),(10.79,.704),(10.85,.703),(10.65,.657),(10.96,.636),(10.64,.635),(10.75,.62),(10.72,.611),(10.73,.583),(11.23,.569),(10.56,.562),(10.47,.557),(10.58,.54),(10.46,.536),(10.34,.538),(10.51,.519),(10.63,.51),(10.9,.484),(10.71,.477),(10.3,.495),(10.38,.462),(10.23,.46),(10.31,.432),(10.14,.432),(10.19,.405),(10.07,.397),(9.99,.383),(9.93,.411),(9.9,.367),(9.93,.317),(9.67,.32),(10.39,.352),(9.44,.357),(9.6,.367),(9.08,.344),(9.16,.395),(9.58,.402),(9.5,.411),(9.47,.434),(9.35,.441),(9.12,.456),(8.68,.462),(8.87,.477),(8.98,.481),(8.82,.529),(8.98,.524),(9.08,.503),(9.2,.493),(9.28,.475),(8.98,.553),(8.85,.581),(8.97,.596),(8.85,.611),(8.75,.627),(8.62,.657),(8.75,.679),(8.93,.65),(8.93,.679),(8.93,.694),(9.02,.679),(8.75,.731),(9.02,.746),(9.09,.735),(8.75,.765),(8.75,.772),(8.98,.791),(8.87,.822),(8.76,.826),(9.04,.81),(9.08,.836),(8.9,.865),(8.93,.862),(9.04,.874),(9.12,.867),(9.2,.854),(9.31,.847),(9.17,.91),(9.25,.906),(9.28,.88),(9.39,.888),(9.44,.899),(9.47,.929),(9.55,.94),(9.69,.947),(9.77,.951),(9.93,.921),(10.04,.921),(10.15,.94),(10.12,.914),(10.31,.925),(10.39,.917),(10.23,.899),(10.37,.891),(10.56,.873),(10.47,.85),(10.64,.828),(9.7,.45),(9.85,.43),(10.05,.43),(9.55,.47),(9.4,.49),(9.3,.53),(9.15,.56),(9.05,.62),(9.1,.68),(9.12,.78)]
AM_D_CORE = [(.87,[9.7,9.85,10]),(.84,[9.45,9.6,9.75,9.9,10.05,10.2]),(.81,[9.35,9.5,9.65,9.8,9.95,10.1,10.25]),(.78,[9.3,9.45,9.6,9.75,9.9,10.05,10.2,10.35]),(.75,[9.25,9.4,9.55,9.7,9.85,10,10.15,10.3,10.45]),(.72,[9.2,9.35,9.5,9.65,9.8,9.95,10.1,10.25,10.4]),(.69,[9.15,9.3,9.45,9.6,9.75,9.9,10.05,10.2,10.35,10.5]),(.66,[9.2,9.35,9.5,9.65,9.8,9.95,10.1,10.25,10.4]),(.63,[9.2,9.35,9.5,9.65,9.8,9.95,10.1,10.25,10.4]),(.6,[9.25,9.4,9.55,9.7,9.85,10,10.15,10.3]),(.57,[9.3,9.45,9.6,9.75,9.9,10.05,10.2,10.35]),(.54,[9.4,9.55,9.7,9.85,10,10.15,10.3]),(.51,[9.5,9.65,9.8,9.95,10.1]),(.48,[9.65,9.8,9.95]),
 (.9,[9.55,9.7,9.85,10,10.1,10.25]),(.855,[9.4,9.52,9.68,9.82,9.98,10.12,10.28,10.4]),(.825,[9.3,9.42,9.58,9.72,9.88,10.02,10.18,10.32]),(.795,[9.22,9.38,9.52,9.68,9.82,9.98,10.12,10.28,10.45]),(.765,[9.18,9.32,9.48,9.62,9.78,9.92,10.08,10.22,10.38]),(.735,[9.15,9.28,9.42,9.58,9.72,9.88,10.02,10.18,10.32,10.5]),(.705,[9.12,9.22,9.38,9.52,9.68,9.82,9.98,10.12,10.28,10.42]),(.675,[9.12,9.28,9.42,9.58,9.72,9.88,10.02,10.18,10.32,10.48]),(.645,[9.12,9.28,9.42,9.58,9.72,9.88,10.02,10.18,10.32,10.48]),(.615,[9.15,9.32,9.48,9.62,9.78,9.92,10.08,10.22,10.38]),(.585,[9.15,9.38,9.52,9.68,9.82,9.98,10.12,10.28,10.45]),(.555,[9.25,9.38,9.52,9.68,9.82,9.98,10.12,10.28]),(.525,[9.35,9.45,9.6,9.75,9.9,10.05,10.2]),(.495,[9.42,9.58,9.72,9.88,10.02,10.15]),(.465,[9.6,9.72,9.85,10]),(.44,[9.62,9.78])]

TM_A = [(9.1,.716),(9.3,.64),(9.92,.64),(9.82,.62),(9.6,.608),(9.46,.597),(8.94,.605),(8.69,.556),(8.67,.547),(8.67,.519),(8.94,.519),(8.92,.492),(8.92,.469),(9.16,.555),(9.45,.575),(9.16,.527),(9.16,.504),(9.16,.48),(9.14,.445),(9.14,.424),(9.32,.433),(9.32,.401),(9.46,.378),(9.46,.357),(9.59,.37),(9.72,.329),(9.83,.318),(10.02,.314),(10.21,.277),(10.26,.264),(10.4,.253),(10.54,.262),(10.89,.247),(10.96,.236),(11.07,.262),(11.27,.3),(11.16,.318),(11.29,.344),(11.36,.383),(11.2,.39),(11.08,.401),(10.97,.415),(10.9,.459),(10.83,.478),(10.66,.519),(10.48,.549),(10.65,.591),(10.24,.58),(10.16,.571),(10.02,.573),(9.86,.587),(10.16,.545),(10.43,.512),(10.32,.504),(10.56,.482),(10.7,.459),(10.81,.415),(10.97,.363),(10.75,.303),(10.64,.273),(10.81,.296),(11.03,.277),(10.43,.303),(10.32,.285),(10.16,.318),(9.78,.34),(9.51,.385),(9.4,.415),(9.9,.56),(9.95,.545)]
TM_A_CORE = [(.53,[9.5,9.65,9.8,9.95]),(.51,[9.3,9.45,9.6,9.75,9.9,10.05]),(.49,[9.25,9.4,9.55,9.7,9.85,10,10.15,10.3]),(.47,[9.3,9.45,9.6,9.75,9.9,10.05,10.2,10.35,10.5]),(.45,[9.25,9.4,9.55,9.7,9.85,10,10.15,10.3,10.45,10.6]),(.43,[9.35,9.5,9.65,9.8,9.95,10.1,10.25,10.4,10.55,10.7]),(.41,[9.5,9.65,9.8,9.95,10.1,10.25,10.4,10.55,10.7,10.8]),(.39,[9.55,9.7,9.85,10,10.15,10.3,10.45,10.6,10.75]),(.37,[9.7,9.85,10,10.15,10.3,10.45,10.6,10.75,10.9]),(.35,[9.85,10,10.15,10.3,10.45,10.6,10.75,10.9,11.05]),(.33,[9.95,10.1,10.25,10.4,10.55,10.7,10.85,11]),(.31,[10.05,10.25,10.4,10.55,10.7,10.85]),(.29,[10.3,10.5,10.65,10.8,10.95]),
 (.6,[9.9]),(.58,[9.75,9.92]),(.56,[9.6,9.75,9.9,10.05]),(.54,[9.4,9.55,9.72,9.88,10.02,10.2,10.3]),(.52,[9.38,9.52,9.68,9.82,9.98,10.12,10.28,10.42]),(.5,[9.32,9.48,9.62,9.78,9.92,10.08,10.22,10.38,10.5]),(.48,[9.32,9.48,9.62,9.78,9.92,10.08,10.22,10.38,10.55,10.65]),(.46,[9.32,9.48,9.62,9.78,9.92,10.08,10.22,10.38,10.52,10.68]),(.44,[9.42,9.58,9.72,9.88,10.02,10.18,10.32,10.48,10.62,10.78]),(.42,[9.42,9.58,9.72,9.88,10.02,10.18,10.32,10.48,10.62,10.78,10.9]),(.4,[9.58,9.72,9.88,10.02,10.18,10.32,10.48,10.62,10.78,10.95]),(.38,[9.62,9.78,9.92,10.08,10.22,10.38,10.52,10.68,10.82,11]),(.36,[9.78,9.92,10.08,10.22,10.38,10.52,10.68,10.82,11]),(.34,[9.9,10.08,10.22,10.38,10.52,10.68,10.82,10.98,11.12]),(.32,[10.15,10.32,10.48,10.62,10.78,10.92,11.08]),(.3,[10.3,10.45,10.6,10.72,10.88,11.02]),(.27,[10.35,10.5,10.65,10.9,11])]
TM_B = [(8.67,375),(8.69,367),(8.91,443),(8.94,430),(8.94,396),(9.1,391),(9.13,510),(9.13,478),(9.16,454),(9.29,574),(9.32,526),(9.29,450),(9.45,653),(9.45,590),(10.02,661),(10.18,717),(10.48,852),(10.64,880),(10.66,947),(10.83,1066),(10.91,1122),(10.96,1233),(10.37,1197),(10.45,1233),(10.56,1265),(10.7,1320),(10.86,1392),(11.08,1368),(11.07,1304),(10.91,1440),(11.2,1400),(11.2,1451),(11.08,1480),(10.87,1492)]
TM_B_CORE = [(9.35,[500,560,610]),(9.41,[530,590,650]),(9.47,[540,610,670]),(9.53,[555,625,690]),(9.59,[560,640,720]),(9.65,[570,650,730,770]),(9.71,[580,650,720,790]),(9.77,[590,660,730,810]),(9.83,[600,670,750,830]),(9.89,[620,700,780,860]),(9.95,[640,720,800,880]),(10.01,[670,750,830,910,960]),(10.07,[680,770,850,930,1000]),(10.13,[700,780,860,940,1020]),(10.19,[720,800,880,960,1040]),(10.25,[740,820,900,980,1070]),(10.31,[770,850,930,1010,1090]),(10.37,[800,880,960,1040,1120]),(10.43,[830,910,990,1070,1150]),(10.49,[860,940,1020,1100,1180,1250]),(10.55,[900,980,1060,1140,1210]),(10.61,[940,1020,1100,1180,1250]),(10.67,[1000,1080,1160,1230,1290]),(10.73,[1060,1140,1220,1300]),(10.79,[1160,1240,1310,1360]),(10.85,[1190,1260,1330]),(10.91,[1250,1350]),(10.97,[1310,1380]),
 (9.2,[490]),(9.38,[545,610]),(9.44,[560,630]),(9.5,[590,650]),(9.56,[590,670]),(9.62,[610,680,740]),(9.68,[610,690,760]),(9.74,[620,700,770]),(9.8,[640,710,790]),(9.86,[660,740,820]),(9.92,[680,760,840]),(9.98,[710,790,870,930]),(10.04,[720,800,890,960]),(10.1,[740,820,900,980]),(10.16,[760,840,920,1000]),(10.22,[780,860,940,1020]),(10.28,[810,890,970,1050]),(10.34,[840,920,1000,1080,1150]),(10.4,[870,950,1030,1110,1170]),(10.46,[900,980,1060,1140,1220]),(10.52,[940,1020,1100,1180]),(10.58,[980,1060,1140,1220]),(10.64,[1040,1120,1200,1270]),(10.7,[1100,1180,1260]),(10.76,[1200,1280,1340]),(10.82,[1230,1300,1370])]
TM_C = [(8.67,.787),(8.69,.789),(8.67,.772),(9.1,.845),(8.94,.803),(8.94,.771),(8.94,.766),(9.16,.795),(9.3,.831),(9.45,.821),(9.45,.813),(9.62,.826),(9.83,.835),(9.91,.845),(10.02,.837),(10.24,.843),(10.32,.829),(10.4,.832),(10.51,.821),(10.64,.853),(10.66,.84),(10.86,.857),(10.7,.813),(10.83,.807),(10.97,.809),(10.89,.787),(11.02,.758),(11.2,.775),(11.36,.801),(11.36,.755),(11.27,.744),(11.29,.731),(11.13,.736),(11.07,.712),(11.07,.699),(11.02,.656),(11.25,.637),(11.02,.636),(10.86,.678),(10.97,.678),(10.83,.662),(10.96,.601),(10.96,.596),(10.89,.625),(10.7,.625),(10.52,.575),(10.55,.601),(10.45,.595),(10.37,.597),(10.32,.586),(10.25,.569),(10.1,.612),(9.83,.605),(9.72,.636),(9.59,.646),(9.34,.673),(9.45,.675),(9.14,.701),(9.32,.686),(9.14,.723),(8.91,.736),(9.16,.734),(9.13,.76),(9.8,.82),(10.15,.825),(10.6,.8),(10.85,.77),(10.95,.74),(10.85,.72),(10.9,.66),(10.75,.65),(10.55,.64),(10.6,.63),(10.3,.61),(10.05,.615)]
TM_C_CORE = [(.81,[9.6,9.75,9.9,10.05,10.2]),(.79,[9.4,9.55,9.7,9.85,10,10.15,10.3,10.45]),(.77,[9.25,9.4,9.55,9.7,9.85,10,10.15,10.3,10.45,10.6]),(.75,[9.2,9.35,9.5,9.65,9.8,9.95,10.1,10.25,10.4,10.55,10.7,10.85]),(.73,[9.25,9.4,9.55,9.7,9.85,10,10.15,10.3,10.45,10.6,10.75]),(.71,[9.3,9.45,9.6,9.75,9.9,10.05,10.2,10.35,10.5,10.65,10.85]),(.69,[9.45,9.6,9.75,9.9,10.05,10.2,10.35,10.5,10.7]),(.67,[9.6,9.75,9.9,10.05,10.2,10.35,10.5,10.65]),(.65,[9.7,9.85,10,10.15,10.3,10.45]),(.63,[10.05,10.2,10.35,10.45]),
 (.83,[9.75,9.95,10.1,10.35]),(.8,[9.5,9.62,9.78,9.92,10.08,10.22,10.38,10.52]),(.78,[9.32,9.48,9.62,9.78,9.92,10.08,10.22,10.38,10.52,10.68]),(.76,[9.22,9.32,9.48,9.62,9.78,9.92,10.08,10.22,10.38,10.52,10.68,10.8]),(.74,[9.15,9.28,9.42,9.58,9.72,9.88,10.02,10.18,10.32,10.48,10.62,10.8]),(.72,[9.2,9.32,9.48,9.62,9.78,9.92,10.08,10.22,10.38,10.52,10.68,10.82]),(.7,[9.38,9.52,9.68,9.82,9.98,10.12,10.28,10.42,10.58,10.72]),(.68,[9.5,9.68,9.82,9.98,10.12,10.28,10.42,10.58,10.72]),(.66,[9.6,9.78,9.92,10.08,10.22,10.38,10.52,10.62]),(.64,[9.75,9.92,10.08,10.22,10.3,10.5]),(.62,[10.1,10.3,10.42])]
TM_D = [(8.69,.943),(8.69,.827),(9.14,.931),(9.07,.904),(8.94,.815),(8.94,.787),(8.94,.735),(9.14,.873),(9.14,.85),(9.29,.899),(9.3,.869),(9.44,.894),(9.57,.925),(9.71,.931),(9.83,.906),(9.94,.969),(9.92,.955),(10.05,.931),(10.16,.934),(10.28,.978),(10.37,.971),(10.5,.949),(10.56,.93),(10.36,.889),(10.21,.906),(10.51,.882),(10.7,.884),(10.9,.88),(10.85,.949),(10.97,.962),(11.01,.824),(11.1,.843),(11.46,.824),(10.85,.85),(10.78,.806),(10.7,.813),(10.78,.778),(11.35,.731),(11.47,.72),(11.16,.72),(11.06,.73),(10.81,.73),(10.89,.717),(10.74,.713),(11.02,.69),(11.1,.683),(10.9,.666),(10.67,.664),(10.78,.638),(10.74,.596),(10.81,.575),(10.86,.553),(10.62,.59),(11.17,.528),(10.7,.553),(10.64,.523),(10.56,.504),(10.7,.497),(10.82,.461),(10.59,.478),(10.54,.434),(10.37,.449),(10.4,.419),(10.24,.411),(10.29,.382),(10.26,.348),(10.33,.331),(10.13,.393),(10.05,.352),(10.05,.333),(9.94,.315),(10.73,.316),(9.75,.312),(9.64,.322),(9.59,.359),(9.67,.382),(9.41,.393),(9.28,.37),(9.29,.408),(9.1,.382),(9.12,.318),(8.91,.333),(8.67,.369),(8.67,.415),(8.67,.43),(8.67,.435),(8.91,.411),(8.91,.43),(8.91,.443),(9.12,.419),(9.13,.467),(8.67,.497),(8.91,.514),(8.91,.562),(8.67,.584),(8.67,.607),(8.91,.601),(8.94,.62),(8.94,.646),(8.94,.676),(9.13,.519),(9.13,.51),(9.13,.586),(9.13,.694),(9.13,.728),(9.26,.757),(9.29,.828),(9.4,.839),(9.56,.873),(9.75,.865),(9.34,.8),(9.9,.87),(10.05,.88),(10.25,.86),(10.4,.85),(10.5,.82),(10.55,.75),(10.6,.7),(10.5,.62),(10.45,.55),(10.35,.5),(10.25,.47),(9.9,.38),(9.75,.4),(9.55,.42),(9.4,.44),(9.3,.5)]
TM_D_CORE = [(.84,[9.65,9.8,9.95,10.1]),(.815,[9.45,9.6,9.75,9.9,10.05,10.2,10.35]),(.79,[9.4,9.55,9.7,9.85,10,10.15,10.3]),(.765,[9.3,9.45,9.6,9.75,9.9,10.05,10.2,10.35]),(.74,[9.25,9.4,9.55,9.7,9.85,10,10.15,10.3,10.45]),(.715,[9.2,9.35,9.5,9.65,9.8,9.95,10.1,10.25,10.4]),(.69,[9.2,9.35,9.5,9.65,9.8,9.95,10.1,10.25,10.4]),(.665,[9.15,9.3,9.45,9.6,9.75,9.9,10.05,10.2,10.35,10.5]),(.64,[9.2,9.35,9.5,9.65,9.8,9.95,10.1,10.25,10.4]),(.615,[9.15,9.3,9.45,9.6,9.75,9.9,10.05,10.2,10.35]),(.59,[9.2,9.35,9.5,9.65,9.8,9.95,10.1,10.25]),(.565,[9.15,9.3,9.45,9.6,9.75,9.9,10.05,10.2]),(.54,[9.2,9.35,9.5,9.65,9.8,9.95,10.1,10.25]),(.515,[9.25,9.4,9.55,9.7,9.85,10,10.15]),(.49,[9.25,9.4,9.55,9.7,9.85,10,10.15]),(.465,[9.35,9.5,9.65,9.8,9.95,10.1]),(.44,[9.45,9.6,9.75,9.9,10.05]),
 (.89,[9.55,9.7,9.9,10.2,10.3]),(.865,[9.6,9.85,10,10.15,10.3]),(.84,[9.45,9.5]),(.8,[9.35,9.48,9.62,9.78,9.92,10.08,10.22,10.38]),(.775,[9.38,9.52,9.68,9.82,9.98,10.12,10.28,10.42]),(.75,[9.2,9.32,9.48,9.62,9.78,9.92,10.08,10.22,10.38,10.5]),(.725,[9.28,9.42,9.58,9.72,9.88,10.02,10.18,10.32,10.5]),(.7,[9.28,9.42,9.58,9.72,9.88,10.02,10.18,10.32,10.5]),(.675,[9.22,9.38,9.52,9.68,9.82,9.98,10.12,10.28,10.42,10.55]),(.65,[9.28,9.42,9.58,9.72,9.88,10.02,10.18,10.32,10.48]),(.625,[9.22,9.38,9.52,9.68,9.82,9.98,10.12,10.28,10.42,10.55]),(.6,[9.28,9.42,9.58,9.72,9.88,10.02,10.18,10.32,10.45]),(.575,[9.22,9.38,9.52,9.68,9.82,9.98,10.12,10.28,10.42,10.55]),(.55,[9.28,9.42,9.58,9.72,9.88,10.02,10.18,10.32,10.42]),(.525,[9.32,9.48,9.62,9.78,9.92,10.08,10.22,10.35]),(.5,[9.32,9.48,9.62,9.78,9.92,10.08,10.22,10.38]),(.475,[9.42,9.58,9.72,9.88,10.02,10.18,10.3]),(.45,[9.52,9.68,9.82,9.98,10.12,10.25]),(.425,[9.5,9.65,9.8,9.95,10.1]),(.4,[9.55,9.7,9.9,10,10.2]),(.37,[9.6,9.7,9.9,10.15]),(.34,[9.55,9.75,9.95,10.15])]

POINTS = [[EM_A, KM_A, AM_A, TM_A], [EM_B, KM_B, AM_B, TM_B], [EM_C, KM_C, AM_C, TM_C], [EM_D, KM_D, AM_D, TM_D]]
CORES = [[[], KM_A_CORE, AM_A_CORE, TM_A_CORE], [[], KM_B_CORE, AM_B_CORE, TM_B_CORE], [[], KM_C_CORE, AM_C_CORE, TM_C_CORE], [[], KM_D_CORE, AM_D_CORE, TM_D_CORE]]

CAPTION = [
    "<b>Figure 5.</b>  Comparison of the shape of EM measurement and lattice growth simulations for <i>N</i><sub>sim</sub> = 1000 runs. Scatter plots show",
    "(a) circularity, (b) edge length, (c) solidity and (d) roundness of clathrin lattices as a function of the logarithm of the area. The",
    "mean values are shown in red and the 68% confidence interval (CI) as ellipse. From left to right it is shown the EM measurement",
    "for <i>N</i><sub>EM</sub> = 109 lattices (green), the KM simulation (orange), the AM simulation (cyan) and the TM simulation (deep blue).",
]

# panel layout in pixels
PANEL_L = [148.5, 396, 643.5, 891]
PANEL_R = [339, 587, 834, 1082]
PANEL_T = [69, 446, 822.5, 1199.5]
PANEL_B = [382.5, 759.5, 1136, 1513]
ROW_LABEL_Y = [46, 423, 800, 1177]
FONT = "DejaVu Sans"
RED = "rgba(214,39,40,0.95)"

fig = go.Figure()
layout = {}
t = np.linspace(0, 2 * np.pi, 121)
for r in range(4):
    for c in range(4):
        n = r * 4 + c + 1
        xa, ya = f"x{n}", f"y{n}"
        xs = [p[0] for p in POINTS[r][c]]
        ys = [p[1] for p in POINTS[r][c]]
        for key, vals in CORES[r][c]:
            if r == 1:   # this row was read column by column
                xs += [key] * len(vals); ys += list(vals)
            else:
                xs += list(vals); ys += [key] * len(vals)
        fig.add_trace(go.Scatter(x=xs, y=ys, mode="markers", xaxis=xa, yaxis=ya, showlegend=False,
                                 name=MODELS[c],
                                 marker=dict(symbol=SYMBOLS[c], size=MSIZE[c], color=COLORS[c], line=dict(width=0))))
        rho = ELL_RHO[r][c]
        ex = ELL_CX[r][c] + ELL_SX[r][c] * np.cos(t)
        ey = ELL_CY[r][c] + ELL_SY[r][c] * (rho * np.cos(t) + np.sqrt(1 - rho ** 2) * np.sin(t))
        fig.add_trace(go.Scatter(x=ex, y=ey, mode="lines", fill="toself", fillcolor=ELL_FILL[c], xaxis=xa, yaxis=ya,
                                 showlegend=False, hoverinfo="skip", line=dict(width=0.5, color="rgba(200,200,170,0.3)")))
        fig.add_trace(go.Scatter(x=[X_TICKS[0], X_TICKS[-1]], y=[MEAN_Y[r][c]] * 2, mode="lines", xaxis=xa, yaxis=ya,
                                 showlegend=False, hoverinfo="skip", line=dict(width=2.5, color=RED)))
        fig.add_trace(go.Scatter(x=[MEAN_X[r][c]] * 2, y=Y_RANGES[r], mode="lines", xaxis=xa, yaxis=ya,
                                 showlegend=False, hoverinfo="skip", line=dict(width=2.5, color=RED)))
        bottom = r == 3
        layout[f"xaxis{n}"] = dict(
            domain=[PANEL_L[c] / W, PANEL_R[c] / W], range=[X_TICKS[0], X_TICKS[-1]], anchor=ya, automargin=False,
            tickvals=X_TICKS if bottom else [], ticktext=X_TICKTEXT if bottom else [],
            ticks="inside" if bottom else "", ticklen=4, tickwidth=1, tickcolor="#222", showticklabels=bottom,
            tickangle=0, showgrid=False, zeroline=False, showline=True, linecolor="#333", linewidth=1.2,
            ticklabelstandoff=-6,
            mirror="ticks" if bottom else True, tickfont=dict(family=FONT, size=17, color="#111"),
            title=dict(text="ln (Area)", font=dict(family=FONT, size=18.5, color="#111"), standoff=0) if bottom else None)
        layout[f"yaxis{n}"] = dict(
            domain=[1 - PANEL_B[r] / H, 1 - PANEL_T[r] / H], range=Y_RANGES[r], anchor=xa, automargin=False,
            tickvals=Y_TICKS[r], ticktext=Y_TICKTEXT[r], ticks="inside", ticklen=4, tickwidth=1, tickcolor="#222",
            showgrid=False, zeroline=False, showline=True, linecolor="#333", linewidth=1.2, mirror="ticks",
            ticklabelstandoff=-2,
            tickfont=dict(family=FONT, size=17, color="#111"),
            title=dict(text=Y_TITLES[r], font=dict(family=FONT, size=18.5, color="#111"), standoff=0) if c == 0 else None)

ann = []
for c, m in enumerate(MODELS):
    ann.append(dict(text=f"<b>{m}</b>", x=(PANEL_L[c] + PANEL_R[c]) / 2 / W, y=1 - 46 / H, xref="paper", yref="paper",
                    xanchor="center", yanchor="middle", showarrow=False, font=dict(family=FONT, size=19, color=COLORS[c])))
for r, lab in enumerate(ROW_LABELS):
    ann.append(dict(text=f"<b>{lab}</b>", x=71 / W, y=1 - ROW_LABEL_Y[r] / H, xref="paper", yref="paper",
                    xanchor="left", yanchor="middle", showarrow=False, font=dict(family=FONT, size=19, color="#111")))
for i, line in enumerate(CAPTION):
    ann.append(dict(text=line, x=35 / W, y=1 - (1584 + 24 * i) / H, xref="paper", yref="paper", xanchor="left",
                    yanchor="middle", showarrow=False, font=dict(family="Liberation Serif", size=21.4, color="#222")))

border = dict(type="line", xref="paper", yref="paper", line=dict(color="#888", width=2.5))
shapes = [dict(border, x0=8.5 / W, x1=8.5 / W, y0=0, y1=1 - 8 / H),
          dict(border, x0=8.5 / W, x1=1161.5 / W, y0=1 - 8 / H, y1=1 - 8 / H),
          dict(border, x0=1161.5 / W, x1=1161.5 / W, y0=0, y1=1 - 8 / H)]

fig.update_layout(width=W, height=H, margin=dict(l=0, r=0, t=0, b=0), paper_bgcolor="white", plot_bgcolor="white",
                  showlegend=False, annotations=ann, shapes=shapes, **layout)
fig.write_html("out.html", config={"displayModeBar": False}, post_script="document.body.style.margin='0';")
